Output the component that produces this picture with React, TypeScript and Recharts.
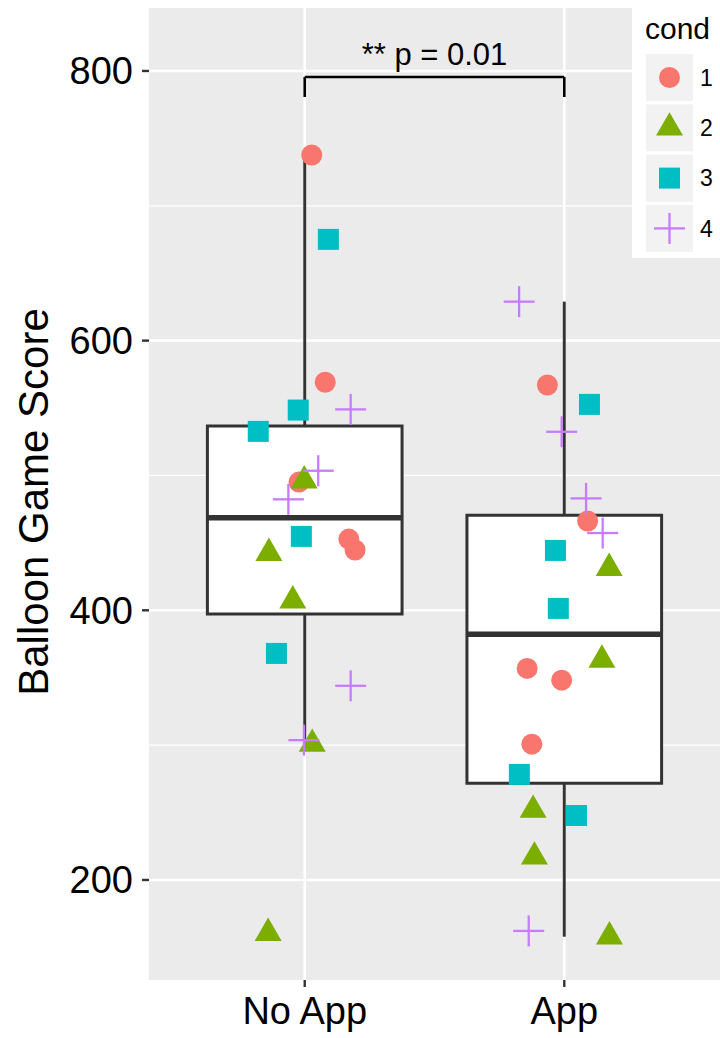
import React from 'react';
import {
  ComposedChart,
  Scatter,
  XAxis,
  YAxis,
  CartesianGrid,
  ReferenceLine,
  ReferenceArea,
  Legend,
  Label,
} from 'recharts';

// ---------- data ----------
const categories = ['No App', 'App'];
const condLabels = ['1', '2', '3', '4'];
const yTicks = [200, 400, 600, 800];
const yMinor = [300, 500, 700];

// No App group (values and horizontal jitter offsets)
const noAppCond1 = [737.7, 569.1, 495.1, 452.8, 444.7];
const noAppCond1Jitter = [0.027, 0.079, -0.022, 0.17, 0.194];
const noAppCond2 = [496.2, 442.4, 407.1, 300.8, 160.5];
const noAppCond2Jitter = [-0.002, -0.138, -0.046, 0.029, -0.141];
const noAppCond3 = [675.1, 548.5, 532.7, 454.8, 368.0];
const noAppCond3Jitter = [0.091, -0.025, -0.179, -0.013, -0.109];
const noAppCond4 = [549.0, 503.5, 482.3, 344.0, 303.7];
const noAppCond4Jitter = [0.177, 0.052, -0.063, 0.177, -0.003];

// App group
const appCond1 = [567.1, 466.2, 356.9, 348.2, 300.7];
const appCond1Jitter = [-0.065, 0.09, -0.143, -0.01, -0.125];
const appCond2 = [431.3, 363.2, 251.9, 217.2, 157.9];
const appCond2Jitter = [0.173, 0.145, -0.12, -0.115, 0.174];
const appCond3 = [552.7, 444.4, 401.4, 278.3, 247.8];
const appCond3Jitter = [0.097, -0.034, -0.023, -0.173, 0.047];
const appCond4 = [628.9, 532.4, 483.0, 457.3, 162.2];
const appCond4Jitter = [-0.174, -0.01, 0.084, 0.148, -0.137];

const bracketText = '** p = 0.01';
const bracketTop = 795.5;
const bracketTickEnd = 780.7;

// ---------- styles ----------
const condColors = ['#F8766D', '#7CAE00', '#00BFC4', '#C77CFF'];
const FONT = '"Liberation Sans", Arial, Helvetica, sans-serif';
const BOX_HALF = 0.375;
const BOX_STROKE = '#333333';

// ---------- helpers ----------
const toPoints = (pos: number, vals: number[], jit: number[]) =>
  vals.map((v, i) => ({ x: pos + jit[i], y: v }));

const cond1Data = [...toPoints(1, noAppCond1, noAppCond1Jitter), ...toPoints(2, appCond1, appCond1Jitter)];
const cond2Data = [...toPoints(1, noAppCond2, noAppCond2Jitter), ...toPoints(2, appCond2, appCond2Jitter)];
const cond3Data = [...toPoints(1, noAppCond3, noAppCond3Jitter), ...toPoints(2, appCond3, appCond3Jitter)];
const cond4Data = [...toPoints(1, noAppCond4, noAppCond4Jitter), ...toPoints(2, appCond4, appCond4Jitter)];

function quantile(sorted: number[], p: number) {
  const h = (sorted.length - 1) * p;
  const lo = Math.floor(h);
  const hi = Math.min(lo + 1, sorted.length - 1);
  return sorted[lo] + (h - lo) * (sorted[hi] - sorted[lo]);
}

function boxStats(vals: number[]) {
  const s = [...vals].sort((a, b) => a - b);
  const q1 = quantile(s, 0.25);
  const med = quantile(s, 0.5);
  const q3 = quantile(s, 0.75);
  const iqr = q3 - q1;
  const lo = Math.min(...s.filter((v) => v >= q1 - 1.5 * iqr));
  const hi = Math.max(...s.filter((v) => v <= q3 + 1.5 * iqr));
  return { q1, med, q3, lo, hi };
}

const groupValues = [
  [...noAppCond1, ...noAppCond2, ...noAppCond3, ...noAppCond4],
  [...appCond1, ...appCond2, ...appCond3, ...appCond4],
];
const stats = groupValues.map(boxStats);

// ---------- shapes ----------
const CircleShape = (p: any) => <circle cx={p.cx} cy={p.cy} r={10.5} fill={condColors[0]} />;
const TriangleShape = (p: any) => {
  const w = 27;
  const h = 23.4;
  const top = p.cy - (2 / 3) * h;
  const bot = p.cy + h / 3;
  return <polygon points={`${p.cx},${top} ${p.cx + w / 2},${bot} ${p.cx - w / 2},${bot}`} fill={condColors[1]} />;
};
const SquareShape = (p: any) => (
  <rect x={p.cx - 10.5} y={p.cy - 10.5} width={21} height={21} fill={condColors[2]} />
);
const PlusShape = (p: any) => (
  <g stroke={condColors[3]} strokeWidth={2.3}>
    <line x1={p.cx - 15.5} y1={p.cy} x2={p.cx + 15.5} y2={p.cy} />
    <line x1={p.cx} y1={p.cy - 15.5} x2={p.cx} y2={p.cy + 15.5} />
  </g>
);
const shapes = [CircleShape, TriangleShape, SquareShape, PlusShape];

const LegendContent = () => (
  <svg width={88} height={250} style={{ display: 'block' }}>
    <rect x={0} y={0} width={88} height={250} fill="#ffffff" />
    <text x={13} y={31} fontSize={30} fontFamily={FONT} fill="#000">
      cond
    </text>
    {condLabels.map((lab, i) => {
      const top = 46 + i * 50.3;
      const cx = 37.5;
      const cy = top + 23.5;
      const Shape = shapes[i];
      return (
        <g key={lab}>
          <rect x={14} y={top} width={47} height={47} fill="#F2F2F2" />
          <Shape cx={cx} cy={cy} />
          <text x={68} y={cy} dy="0.36em" fontSize={23} fontFamily={FONT} fill="#000">
            {lab}
          </text>
        </g>
      );
    })}
  </svg>
);

const YTitle = () => (
  <text
    transform="translate(48,502) rotate(-90)"
    x={0}
    y={0}
    textAnchor="middle"
    fontSize={42}
    fontFamily={FONT}
    fill="#000"
  >
    Balloon Game Score
  </text>
);

export default function App() {
  return (
    <div style={{ position: 'absolute', left: 0, top: 0, width: 720, height: 1038, background: '#fff' }}>
      <ComposedChart
        width={720}
        height={1038}
        margin={{ top: 8, right: 0, bottom: 0, left: 0 }}
        style={{ fontFamily: FONT }}
      >
        <CartesianGrid fill="#EBEBEB" horizontal={false} vertical={false} />
        <XAxis
          type="number"
          dataKey="x"
          domain={[0.4, 2.6]}
          ticks={[1, 2]}
          tickFormatter={(v: number) => categories[Math.round(v) - 1]}
          allowDataOverflow
          height={58}
          axisLine={false}
          tickSize={7}
          tickMargin={10}
          tickLine={{ stroke: '#333333', strokeWidth: 2.4 }}
          tick={{ fontSize: 38, fill: '#000', fontFamily: FONT }}
          interval={0}
        />
        <YAxis
          type="number"
          dataKey="y"
          domain={[125.8, 846.7]}
          ticks={yTicks}
          allowDataOverflow
          width={149}
          axisLine={false}
          tickSize={7}
          tickMargin={9}
          tickLine={{ stroke: '#333333', strokeWidth: 2.4 }}
          tick={{ fontSize: 38, fill: '#000', fontFamily: FONT }}
          interval={0}
        >
          <Label content={<YTitle />} />
        </YAxis>

        {yMinor.map((v) => (
          <ReferenceLine key={'mn' + v} y={v} stroke="#ffffff" strokeWidth={1.3} zIndex={-95} />
        ))}
        {yTicks.map((v) => (
          <ReferenceLine key={'mj' + v} y={v} stroke="#ffffff" strokeWidth={2.6} zIndex={-94} />
        ))}
        {[1, 2].map((v) => (
          <ReferenceLine key={'vx' + v} x={v} stroke="#ffffff" strokeWidth={2.6} zIndex={-94} />
        ))}

        {stats.map((s, i) => (
          <ReferenceLine
            key={'wu' + i}
            segment={[
              { x: i + 1, y: s.q3 },
              { x: i + 1, y: s.hi },
            ]}
            stroke={BOX_STROKE}
            strokeWidth={2.9}
            zIndex={-90}
          />
        ))}
        {stats.map((s, i) => (
          <ReferenceLine
            key={'wl' + i}
            segment={[
              { x: i + 1, y: s.lo },
              { x: i + 1, y: s.q1 },
            ]}
            stroke={BOX_STROKE}
            strokeWidth={2.9}
            zIndex={-90}
          />
        ))}
        {stats.map((s, i) => (
          <ReferenceArea
            key={'bx' + i}
            x1={i + 1 - BOX_HALF}
            x2={i + 1 + BOX_HALF}
            y1={s.q1}
            y2={s.q3}
            fill="#ffffff"
            fillOpacity={1}
            stroke={BOX_STROKE}
            strokeWidth={3}
            zIndex={-85}
          />
        ))}
        {stats.map((s, i) => (
          <ReferenceLine
            key={'md' + i}
            segment={[
              { x: i + 1 - BOX_HALF, y: s.med },
              { x: i + 1 + BOX_HALF, y: s.med },
            ]}
            stroke={BOX_STROKE}
            strokeWidth={5.5}
            zIndex={-80}
          />
        ))}

        <Scatter data={cond1Data} shape={CircleShape} isAnimationActive={false} />
        <Scatter data={cond2Data} shape={TriangleShape} isAnimationActive={false} />
        <Scatter data={cond3Data} shape={SquareShape} isAnimationActive={false} />
        <Scatter data={cond4Data} shape={PlusShape} isAnimationActive={false} />

        <ReferenceLine
          segment={[
            { x: 1, y: bracketTop },
            { x: 2, y: bracketTop },
          ]}
          stroke="#000"
          strokeWidth={2.6}
          label={{ value: bracketText, position: 'top', offset: 12, fontSize: 31, fill: '#000', fontFamily: FONT }}
        />
        <ReferenceLine
          segment={[
            { x: 1, y: bracketTop },
            { x: 1, y: bracketTickEnd },
          ]}
          stroke="#000"
          strokeWidth={2.6}
        />
        <ReferenceLine
          segment={[
            { x: 2, y: bracketTop },
            { x: 2, y: bracketTickEnd },
          ]}
          stroke="#000"
          strokeWidth={2.6}
        />

        <Legend
          layout="vertical"
          align="center"
          verticalAlign="middle"
          wrapperStyle={{ position: 'absolute', left: 632, top: 8, width: 88, height: 250 }}
          content={() => <LegendContent />}
        />
      </ComposedChart>
    </div>
  );
}
